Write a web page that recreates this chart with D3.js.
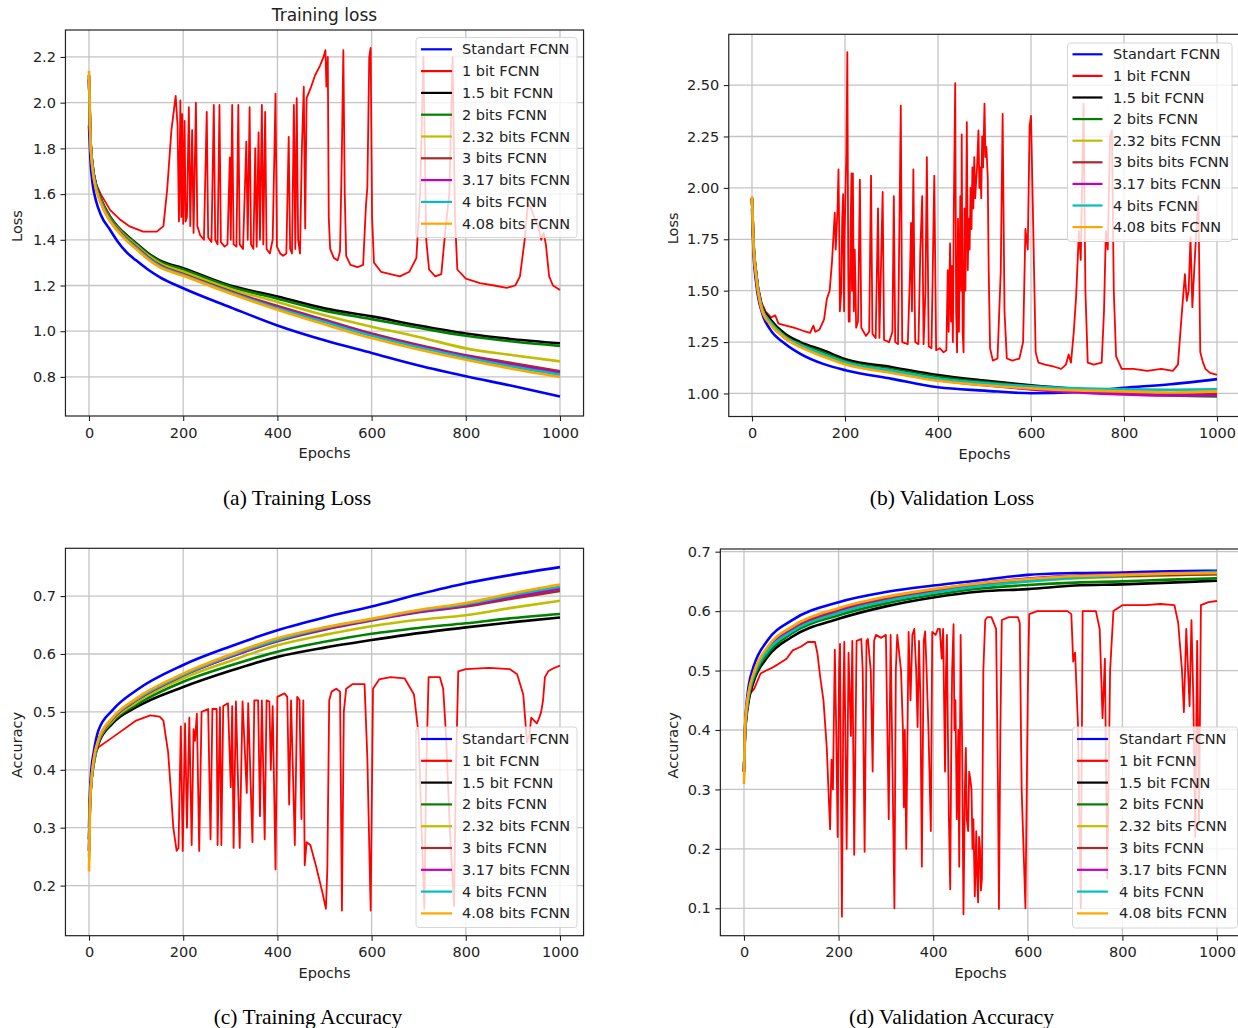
<!DOCTYPE html>
<html><head><meta charset="utf-8">
<script src="https://cdn.jsdelivr.net/npm/d3@7"></script>
<style>
body{margin:0;background:#fff}
svg{display:block;background:#fff}
text{font-family:'DejaVu Sans',sans-serif;fill:#222}
.cap{font-family:'Liberation Serif','Times New Roman',serif;fill:#000}
</style></head><body>
<svg id="c" width="1238" height="1028"></svg>
<script>
// ---------------- labels & colours ----------------
const seriesNames = ["Standart FCNN","1 bit FCNN","1.5 bit FCNN","2 bits FCNN","2.32 bits FCNN","3 bits FCNN","3.17 bits FCNN","4 bits FCNN","4.08 bits FCNN"];
const seriesNamesB = ["Standart FCNN","1 bit FCNN","1.5 bit FCNN","2 bits FCNN","2.32 bits FCNN","3 bits bits FCNN","3.17 bits FCNN","4 bits FCNN","4.08 bits FCNN"];
const seriesColors = ["#0000ff","#ff0000","#000000","#008000","#bfbf00","#a52a2a","#bf00bf","#00bfbf","#ffa500"];
const xTickValues = [0,200,400,600,800,1000];

// ---------------- (a) Training loss ----------------
const tlEpochs   = [0,3,8,15,25,45,60,80,100,125,150,200,300,400,500,600,700,800,900,1000];
const tlStandard = [1.90,1.75,1.64,1.57,1.51,1.443,1.395,1.345,1.31,1.27,1.237,1.188,1.105,1.025,0.96,0.905,0.85,0.803,0.76,0.714];
const tlBit15    = [2.10,1.85,1.72,1.64,1.58,1.50,1.46,1.42,1.385,1.342,1.31,1.276,1.20,1.152,1.10,1.065,1.025,0.99,0.965,0.947];
const tlBit2     = [2.10,1.85,1.72,1.64,1.58,1.50,1.458,1.417,1.382,1.339,1.306,1.27,1.195,1.142,1.09,1.053,1.015,0.98,0.955,0.936];
const tlBit232   = [2.10,1.84,1.71,1.63,1.57,1.49,1.452,1.41,1.376,1.332,1.298,1.26,1.185,1.128,1.07,1.02,0.975,0.925,0.895,0.868];
const tlBit3     = [2.12,1.84,1.71,1.63,1.57,1.49,1.448,1.405,1.37,1.325,1.29,1.25,1.175,1.11,1.05,0.99,0.94,0.895,0.86,0.825];
const tlBit317   = [2.12,1.84,1.71,1.63,1.565,1.485,1.445,1.402,1.367,1.322,1.287,1.248,1.172,1.105,1.045,0.985,0.935,0.89,0.852,0.818];
const tlBit4     = [2.12,1.84,1.71,1.63,1.565,1.485,1.444,1.40,1.365,1.32,1.285,1.246,1.17,1.10,1.04,0.98,0.93,0.885,0.845,0.81];
const tlBit408   = [2.14,1.84,1.70,1.62,1.56,1.48,1.44,1.395,1.36,1.315,1.28,1.243,1.165,1.094,1.03,0.97,0.92,0.875,0.835,0.80];
const tlBit1 = [[0,2.05],[3,1.82],[9,1.7],[16,1.64],[25,1.6],[45,1.53],[65,1.49],[85,1.46],[115,1.436],[144,1.436],[158,1.46],[166,1.62],[175,1.88],[184,2.03],[188,1.9],[191,1.48],[194,2.01],[196,1.5],[198,1.95],[200,1.47],[203,1.92],[205,1.48],[208,1.5],[212,1.98],[215,1.46],[219,1.88],[222,1.43],[227,2.0],[230,1.46],[236,1.42],[244,1.4],[250,1.96],[253,1.41],[260,1.39],[265,1.99],[268,1.4],[273,1.38],[277,1.99],[280,1.39],[288,1.37],[294,1.38],[299,1.76],[301,1.4],[304,1.99],[307,1.38],[313,1.37],[317,1.99],[320,1.38],[327,1.36],[334,1.83],[337,1.4],[341,1.98],[344,1.38],[349,1.36],[353,1.8],[356,1.37],[360,1.87],[363,1.4],[367,1.99],[370,1.38],[374,1.96],[377,1.36],[384,1.34],[390,1.4],[396,2.04],[399,1.37],[406,1.34],[412,1.33],[419,1.34],[424,1.85],[427,1.36],[431,1.34],[435,1.99],[438,1.36],[441,2.02],[444,1.4],[448,1.34],[452,1.8],[456,2.07],[459,1.45],[462,2.02],[470,2.06],[480,2.12],[490,2.16],[498,2.2],[502,2.23],[504,2.07],[507,2.2],[509,1.5],[512,1.36],[520,1.32],[528,1.31],[533,1.35],[537,1.8],[540,2.23],[543,1.6],[546,1.33],[555,1.29],[570,1.28],[582,1.29],[588,1.55],[591,1.63],[595,2.2],[598,2.24],[601,1.5],[605,1.3],[620,1.26],[640,1.25],[660,1.24],[680,1.26],[695,1.32],[703,1.6],[710,2.2],[716,1.4],[722,1.27],[735,1.24],[748,1.25],[757,1.45],[765,1.6],[772,2.2],[777,1.5],[782,1.27],[800,1.23],[830,1.21],[860,1.2],[887,1.19],[905,1.2],[915,1.24],[925,1.4],[932,1.56],[938,1.54],[945,1.5],[955,1.45],[960,1.40],[965,1.43],[970,1.38],[977,1.24],[985,1.2],[1000,1.18]];

// ---------------- (b) Validation loss ----------------
const vlEpochs   = [0,3,10,22,38,71,104,153,203,301,400,500,600,700,800,900,1000];
const vlStandard = [1.90,1.70,1.52,1.39,1.315,1.242,1.193,1.144,1.112,1.071,1.03,1.014,1.001,1.008,1.028,1.045,1.07];
const vlBit15    = [1.95,1.75,1.57,1.42,1.365,1.29,1.25,1.21,1.165,1.128,1.09,1.063,1.04,1.022,1.008,0.998,0.99];
const vlBit2     = [1.95,1.74,1.56,1.41,1.355,1.28,1.24,1.20,1.155,1.118,1.08,1.055,1.033,1.015,1.0,0.99,0.985];
const vlBit232   = [1.95,1.74,1.56,1.41,1.35,1.275,1.235,1.19,1.15,1.11,1.072,1.048,1.028,1.015,1.005,0.998,1.0];
const vlBit3     = [1.95,1.73,1.55,1.40,1.345,1.27,1.23,1.185,1.145,1.105,1.068,1.045,1.025,1.012,1.0,0.995,0.998];
const vlBit317   = [1.95,1.73,1.55,1.40,1.345,1.27,1.23,1.185,1.145,1.103,1.065,1.04,1.02,1.005,0.995,0.99,0.99];
const vlBit4     = [1.95,1.74,1.56,1.41,1.35,1.275,1.235,1.19,1.15,1.11,1.072,1.05,1.035,1.025,1.02,1.018,1.02];
const vlBit408   = [1.96,1.74,1.55,1.40,1.34,1.27,1.225,1.18,1.14,1.10,1.062,1.04,1.025,1.015,1.01,1.005,1.01];
const vlBit1 = [[0,1.92],[3,1.72],[13,1.52],[21,1.44],[29,1.40],[41,1.37],[50,1.38],[57,1.34],[73,1.33],[90,1.32],[110,1.305],[125,1.295],[132,1.33],[136,1.30],[145,1.31],[155,1.36],[161,1.46],[167,1.5],[172,1.64],[176,1.8],[178,1.88],[180,1.7],[182,1.8],[184,1.9],[186,2.09],[188,1.7],[189,1.4],[192,1.5],[194,1.85],[196,1.97],[198,1.4],[199,1.75],[201,1.98],[203,2.17],[205,2.66],[207,1.6],[208,1.35],[210,1.35],[212,1.8],[214,2.07],[215,1.5],[217,2.07],[219,1.4],[221,1.7],[224,1.32],[228,1.35],[232,2.04],[235,1.32],[245,1.28],[252,1.3],[256,2.06],[259,1.29],[266,1.27],[271,1.9],[274,1.27],[281,1.98],[284,1.26],[295,1.25],[302,1.3],[305,1.96],[308,1.25],[314,1.24],[320,2.40],[323,1.25],[335,1.24],[340,1.6],[342,1.83],[344,1.4],[347,2.09],[349,1.6],[351,1.25],[358,1.24],[362,1.7],[366,1.96],[369,1.24],[373,1.5],[376,2.15],[380,1.23],[386,1.22],[392,2.06],[396,1.21],[404,1.22],[412,1.2],[418,1.21],[421,1.6],[423,1.3],[426,1.73],[428,1.35],[430,1.62],[432,1.25],[434,1.9],[437,2.51],[439,1.4],[441,1.2],[443,1.85],[445,1.3],[448,1.96],[450,1.5],[451,2.26],[453,1.3],[455,1.2],[457,1.9],[459,1.5],[462,2.32],[464,1.6],[466,1.85],[468,1.7],[470,2.0],[472,1.8],[474,2.1],[476,1.9],[478,2.15],[480,1.95],[482,2.03],[484,2.1],[487,2.28],[489,2.0],[491,2.1],[493,1.95],[495,2.25],[497,2.1],[500,2.41],[502,2.15],[504,2.2],[507,2.05],[509,1.6],[512,1.22],[518,1.16],[528,1.17],[535,1.6],[539,2.36],[543,1.4],[548,1.17],[560,1.16],[575,1.17],[583,1.25],[588,1.8],[593,1.7],[597,2.3],[600,2.35],[604,1.9],[610,1.2],[616,1.15],[630,1.14],[650,1.13],[665,1.12],[675,1.14],[681,1.19],[686,1.15],[692,1.3],[697,1.47],[703,1.79],[707,1.65],[713,2.41],[717,1.5],[722,1.15],[735,1.14],[752,1.15],[757,1.4],[761,1.79],[765,1.7],[770,2.25],[774,2.28],[778,1.5],[783,1.18],[795,1.12],[820,1.12],[850,1.11],[880,1.12],[905,1.11],[916,1.14],[924,1.38],[931,1.58],[935,1.45],[939,1.5],[943,1.76],[947,1.42],[951,1.6],[955,1.77],[960,1.96],[964,1.2],[970,1.15],[975,1.12],[985,1.1],[1000,1.09]];

// ---------------- (c) Training accuracy ----------------
const taEpochs   = [0,2,5,10,20,50,100,200,300,400,500,600,700,800,900,1000];
const taStandard = [0.30,0.36,0.40,0.43,0.468,0.503,0.537,0.581,0.613,0.641,0.663,0.682,0.703,0.722,0.737,0.75];
const taBit15    = [0.28,0.34,0.38,0.41,0.445,0.48,0.508,0.543,0.571,0.595,0.611,0.624,0.636,0.646,0.655,0.663];
const taBit2     = [0.28,0.34,0.38,0.41,0.447,0.483,0.512,0.552,0.58,0.604,0.621,0.635,0.645,0.653,0.662,0.669];
const taBit232   = [0.28,0.34,0.38,0.41,0.449,0.485,0.516,0.558,0.588,0.615,0.633,0.648,0.659,0.667,0.68,0.692];
const taBit3     = [0.26,0.34,0.38,0.415,0.45,0.488,0.52,0.563,0.595,0.622,0.642,0.658,0.672,0.682,0.696,0.709];
const taBit317   = [0.26,0.34,0.38,0.415,0.45,0.488,0.52,0.563,0.595,0.623,0.643,0.659,0.673,0.684,0.699,0.713];
const taBit4     = [0.25,0.34,0.38,0.415,0.451,0.489,0.521,0.564,0.597,0.624,0.645,0.66,0.675,0.686,0.702,0.716];
const taBit408   = [0.225,0.33,0.38,0.418,0.452,0.49,0.523,0.566,0.599,0.627,0.646,0.661,0.676,0.688,0.705,0.72];
const taBit1 = [[0,0.225],[3,0.36],[10,0.422],[20,0.439],[50,0.456],[100,0.485],[130,0.494],[150,0.492],[158,0.485],[168,0.43],[175,0.35],[179,0.3],[186,0.26],[190,0.265],[195,0.475],[199,0.26],[204,0.48],[208,0.3],[213,0.49],[218,0.27],[222,0.47],[225,0.45],[229,0.497],[234,0.26],[239,0.5],[253,0.505],[258,0.28],[262,0.505],[271,0.505],[273,0.27],[278,0.508],[281,0.27],[285,0.51],[295,0.515],[301,0.37],[304,0.51],[307,0.265],[312,0.518],[320,0.265],[326,0.518],[335,0.36],[338,0.515],[347,0.275],[351,0.52],[359,0.52],[363,0.32],[367,0.52],[373,0.28],[377,0.52],[383,0.518],[386,0.4],[390,0.51],[396,0.228],[400,0.526],[415,0.532],[421,0.526],[425,0.34],[429,0.52],[437,0.27],[442,0.526],[447,0.52],[451,0.315],[455,0.52],[458,0.235],[462,0.275],[470,0.27],[482,0.234],[495,0.19],[503,0.16],[506,0.228],[510,0.52],[515,0.535],[525,0.54],[533,0.535],[537,0.157],[541,0.5],[546,0.54],[560,0.548],[585,0.548],[591,0.42],[598,0.157],[603,0.54],[616,0.556],[640,0.56],[670,0.558],[690,0.53],[700,0.46],[706,0.3],[712,0.16],[716,0.4],[721,0.56],[745,0.56],[752,0.54],[758,0.46],[766,0.3],[775,0.165],[779,0.4],[784,0.57],[800,0.574],[850,0.576],[893,0.574],[909,0.565],[922,0.53],[930,0.447],[935,0.46],[939,0.49],[945,0.485],[951,0.48],[956,0.49],[960,0.5],[964,0.52],[968,0.56],[975,0.57],[985,0.575],[1000,0.58]];

// ---------------- (d) Validation accuracy ----------------
const vaEpochs   = [0,2,5,10,20,50,100,200,300,400,500,600,700,800,900,1000];
const vaStandard = [0.33,0.40,0.44,0.475,0.506,0.551,0.584,0.615,0.632,0.643,0.652,0.661,0.664,0.665,0.667,0.668];
const vaBit15    = [0.33,0.39,0.42,0.45,0.48,0.523,0.556,0.587,0.608,0.623,0.633,0.637,0.643,0.645,0.648,0.651];
const vaBit2     = [0.33,0.39,0.425,0.455,0.485,0.528,0.562,0.593,0.613,0.627,0.638,0.644,0.648,0.65,0.653,0.655];
const vaBit232   = [0.33,0.395,0.43,0.46,0.49,0.535,0.568,0.60,0.619,0.632,0.643,0.65,0.655,0.658,0.66,0.662];
const vaBit3     = [0.33,0.395,0.43,0.46,0.49,0.535,0.568,0.60,0.62,0.633,0.644,0.652,0.657,0.659,0.661,0.662];
const vaBit317   = [0.33,0.395,0.43,0.46,0.492,0.537,0.571,0.603,0.623,0.636,0.647,0.655,0.66,0.662,0.664,0.665];
const vaBit4     = [0.33,0.395,0.43,0.46,0.49,0.533,0.565,0.597,0.617,0.631,0.642,0.65,0.656,0.66,0.663,0.666];
const vaBit408   = [0.31,0.40,0.435,0.465,0.495,0.54,0.573,0.605,0.624,0.637,0.647,0.654,0.659,0.661,0.663,0.664];
const vaBit1 = [[0,0.31],[3,0.4],[6,0.43],[12,0.46],[22,0.47],[35,0.495],[47,0.5],[60,0.505],[71,0.51],[90,0.52],[103,0.534],[120,0.54],[135,0.548],[150,0.548],[155,0.53],[161,0.49],[168,0.45],[175,0.37],[178,0.31],[182,0.233],[185,0.35],[188,0.3],[192,0.535],[195,0.4],[198,0.22],[201,0.5],[203,0.545],[205,0.3],[207,0.086],[210,0.45],[212,0.548],[215,0.35],[217,0.2],[221,0.53],[226,0.39],[229,0.55],[233,0.19],[238,0.55],[248,0.553],[251,0.5],[255,0.195],[259,0.55],[262,0.553],[268,0.5],[272,0.33],[275,0.55],[279,0.56],[290,0.555],[300,0.56],[306,0.25],[310,0.56],[318,0.1],[321,0.5],[324,0.56],[332,0.5],[336,0.4],[338,0.27],[340,0.4],[343,0.2],[348,0.565],[352,0.45],[356,0.56],[360,0.57],[364,0.5],[367,0.405],[370,0.55],[373,0.45],[376,0.17],[380,0.55],[383,0.566],[386,0.5],[390,0.4],[395,0.23],[398,0.565],[405,0.56],[410,0.57],[414,0.57],[418,0.52],[421,0.57],[423,0.45],[425,0.33],[427,0.5],[429,0.56],[431,0.4],[433,0.26],[436,0.132],[438,0.35],[440,0.5],[443,0.578],[445,0.4],[447,0.45],[450,0.25],[453,0.4],[455,0.17],[458,0.56],[461,0.39],[464,0.09],[467,0.3],[469,0.37],[471,0.25],[474,0.23],[476,0.33],[478,0.32],[481,0.3],[483,0.2],[485,0.25],[488,0.12],[491,0.23],[493,0.15],[495,0.11],[497,0.22],[499,0.2],[501,0.13],[503,0.15],[506,0.5],[510,0.585],[515,0.59],[523,0.59],[533,0.57],[537,0.3],[539,0.099],[542,0.4],[545,0.585],[560,0.59],[579,0.59],[583,0.58],[587,0.30],[595,0.1],[600,0.46],[603,0.595],[620,0.6],[650,0.6],[684,0.6],[692,0.595],[696,0.515],[700,0.53],[706,0.41],[712,0.1],[716,0.6],[744,0.6],[752,0.57],[758,0.42],[763,0.52],[768,0.15],[774,0.5],[781,0.6],[800,0.61],[850,0.61],[880,0.612],[910,0.61],[918,0.58],[926,0.5],[930,0.43],[935,0.57],[942,0.44],[946,0.585],[950,0.45],[954,0.22],[958,0.55],[962,0.24],[966,0.61],[982,0.615],[1000,0.617]];

// ---------------- tick labels ----------------
const tlYTicks = [0.8,1.0,1.2,1.4,1.6,1.8,2.0,2.2];
const vlYTicks = [1.00,1.25,1.50,1.75,2.00,2.25,2.50];
const taYTicks = [0.2,0.3,0.4,0.5,0.6,0.7];
const vaYTicks = [0.1,0.2,0.3,0.4,0.5,0.6,0.7];

// ---------------- build ----------------
const zip = (ep, vals) => ep.map((e,i)=>[e, vals[i]]);
function seriesList(ep, std, bit1, b15, b2, b232, b3, b317, b4, b408){
  return [zip(ep,std), bit1, zip(ep,b15), zip(ep,b2), zip(ep,b232), zip(ep,b3), zip(ep,b317), zip(ep,b4), zip(ep,b408)];
}

const panels = [
  {key:"a", xr:[65.45,583.55], yd:[0.629,2.318], yr:[416,30], yticks:tlYTicks, fmt:".1f",
   series: seriesList(tlEpochs,tlStandard,tlBit1,tlBit15,tlBit2,tlBit232,tlBit3,tlBit317,tlBit4,tlBit408),
   names: seriesNames, ylabel:"Loss", ylabelX:17, title:"Training loss",
   leg:{x:416, y:37.5, w:161, h:200, first:49.3, step:21.8, lx0:421, lx1:452, tx:462},
   caption:"(a) Training Loss", capX:297, capY:505},
  {key:"b", xr:[728.75,1240.25], yd:[0.888,2.747], yr:[416.5,34.3], yticks:vlYTicks, fmt:".2f",
   series: seriesList(vlEpochs,vlStandard,vlBit1,vlBit15,vlBit2,vlBit232,vlBit3,vlBit317,vlBit4,vlBit408),
   names: seriesNamesB, ylabel:"Loss", ylabelX:673, title:null,
   leg:{x:1067.5, y:43, w:164.5, h:198.5, first:54.3, step:21.6, lx0:1072.5, lx1:1102.5, tx:1113},
   caption:"(b) Validation Loss", capX:952, capY:505},
  {key:"c", xr:[65.45,583.55], yd:[0.1135,0.7825], yr:[935.7,548.3], yticks:taYTicks, fmt:".1f",
   series: seriesList(taEpochs,taStandard,taBit1,taBit15,taBit2,taBit232,taBit3,taBit317,taBit4,taBit408),
   names: seriesNames, ylabel:"Accuracy", ylabelX:17, title:null,
   leg:{x:416, y:727, w:161, h:200.5, first:739, step:21.8, lx0:421, lx1:452, tx:462},
   caption:"(c) Training Accuracy", capX:308, capY:1024},
  {key:"d", xr:[720.35,1240.65], yd:[0.0539,0.7045], yr:[935.7,549], yticks:vaYTicks, fmt:".1f",
   series: seriesList(vaEpochs,vaStandard,vaBit1,vaBit15,vaBit2,vaBit232,vaBit3,vaBit317,vaBit4,vaBit408),
   names: seriesNames, ylabel:"Accuracy", ylabelX:673, title:null,
   leg:{x:1072.5, y:727, w:165, h:201, first:739, step:21.8, lx0:1077, lx1:1108, tx:1119},
   caption:"(d) Validation Accuracy", capX:951.5, capY:1024}
];

const svg = d3.select("#c");
svg.append("rect").attr("width",1238).attr("height",1028).attr("fill","#fff");
const FS = 14.5;

panels.forEach(p => {
  const g = svg.append("g");
  const x = d3.scaleLinear().domain([-50,1050]).range(p.xr);
  const y = d3.scaleLinear().domain(p.yd).range(p.yr);
  const top = p.yr[1], bot = p.yr[0], left = p.xr[0], right = p.xr[1];

  g.append("clipPath").attr("id","clip-"+p.key).append("rect")
    .attr("x",left).attr("y",top).attr("width",right-left).attr("height",bot-top);

  // grid
  const grid = g.append("g").attr("stroke","#c4c4c4").attr("stroke-width",1.3);
  xTickValues.forEach(t => grid.append("line").attr("x1",x(t)).attr("x2",x(t)).attr("y1",top).attr("y2",bot));
  p.yticks.forEach(t => grid.append("line").attr("x1",left).attr("x2",right).attr("y1",y(t)).attr("y2",y(t)));

  // lines
  const lg = g.append("g").attr("clip-path","url(#clip-"+p.key+")");
  p.series.forEach((s,i) => {
    const line = d3.line().x(d=>x(d[0])).y(d=>y(d[1]))
      .curve(i===1 ? d3.curveLinear : d3.curveMonotoneX);
    lg.append("path").attr("d", line(s)).attr("fill","none")
      .attr("stroke", seriesColors[i]).attr("stroke-width", i===1 ? 1.8 : 2.6)
      .attr("stroke-linejoin","round");
  });

  // frame
  g.append("rect").attr("x",left).attr("y",top).attr("width",right-left).attr("height",bot-top)
    .attr("fill","none").attr("stroke","#222").attr("stroke-width",1.2);

  // axes
  const xa = g.append("g").attr("transform",`translate(0,${bot})`)
    .call(d3.axisBottom(x).tickValues(xTickValues).tickSize(5).tickPadding(6.5).tickFormat(d3.format("d")));
  const ya = g.append("g").attr("transform",`translate(${left},0)`)
    .call(d3.axisLeft(y).tickValues(p.yticks).tickSize(5).tickPadding(4.5).tickFormat(d3.format(p.fmt)));
  [xa,ya].forEach(a => {
    a.select(".domain").remove();
    a.attr("font-family",null).attr("font-size",null);
    a.selectAll("line").attr("stroke","#222").attr("stroke-width",1.1);
    a.selectAll("text").attr("font-size",FS).attr("fill","#222");
  });

  // axis labels
  g.append("text").attr("x",(left+right)/2).attr("y",bot+42)
    .attr("text-anchor","middle").attr("font-size",FS).text("Epochs");
  g.append("text").attr("transform",`translate(${p.ylabelX},${(top+bot)/2 + 3}) rotate(-90)`)
    .attr("text-anchor","middle").attr("dominant-baseline","central").attr("font-size",FS).text(p.ylabel);

  if (p.title) {
    g.append("text").attr("x",(left+right)/2).attr("y",21).attr("text-anchor","middle")
      .attr("font-size",17).text(p.title);
  }

  // legend
  const L = p.leg;
  const leg = g.append("g");
  leg.append("rect").attr("x",L.x).attr("y",L.y).attr("width",L.w).attr("height",L.h)
    .attr("rx",3).attr("fill","#fff").attr("fill-opacity",0.8).attr("stroke","#d6d6d6").attr("stroke-width",1);
  p.names.forEach((n,i) => {
    const yy = L.first + i*L.step;
    leg.append("line").attr("x1",L.lx0).attr("x2",L.lx1).attr("y1",yy).attr("y2",yy)
      .attr("stroke",seriesColors[i]).attr("stroke-width",2.2);
    leg.append("text").attr("x",L.tx).attr("y",yy).attr("dominant-baseline","central")
      .attr("font-size",FS).text(n);
  });

  // caption
  svg.append("text").attr("class","cap").attr("x",p.capX).attr("y",p.capY)
    .attr("text-anchor","middle").attr("font-size",21.5).text(p.caption);
});
</script>
</body></html>
